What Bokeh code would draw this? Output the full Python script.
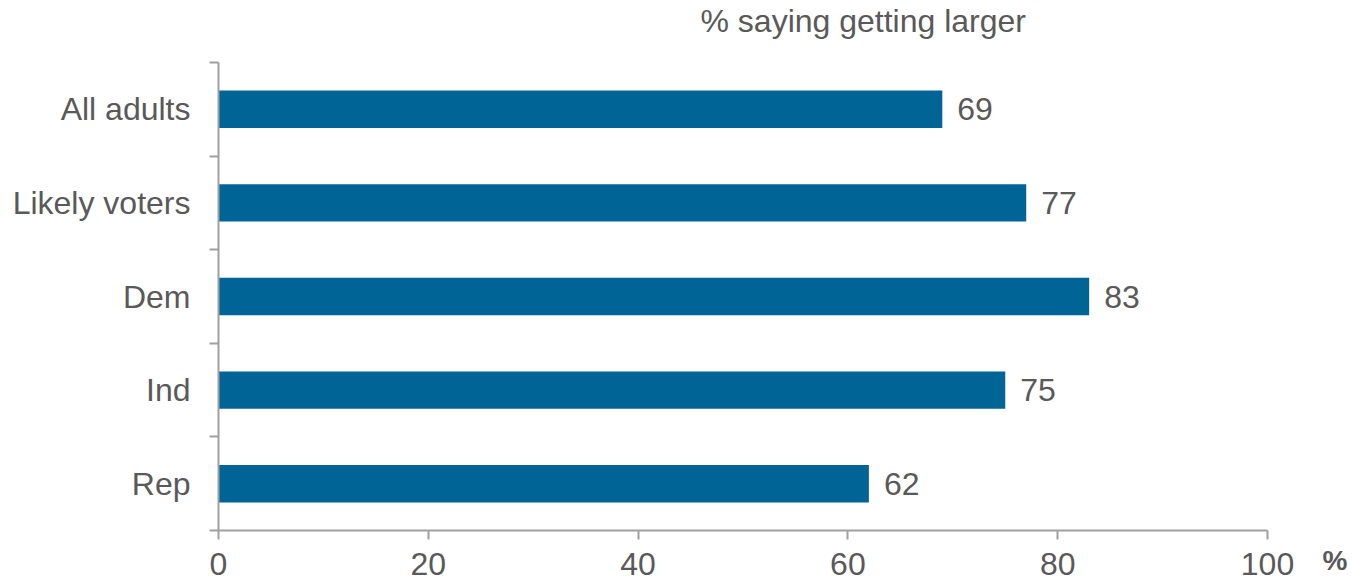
from bokeh.plotting import figure
from bokeh.models import ColumnDataSource, FixedTicker, Range1d
from bokeh.embed import file_html
from bokeh.resources import INLINE
from bokeh.core.properties import value

categories = ["All adults", "Likely voters", "Dem", "Ind", "Rep"]
values = [69, 77, 83, 75, 62]
x_ticks = [0, 20, 40, 60, 80, 100]
title_text = "% saying getting larger"
unit_text = "%"

n = len(categories)
ypos = [n - i - 0.5 for i in range(n)]

FONT = "Liberation Sans"
TXT = "#595959"
AX = "#a0a0a0"
BAR = "#006496"

W, H = 1352, 584
X0, X100 = 218, 1267      # pixel positions of 0 and 100
YTOP, YBOT = 62, 530      # pixel positions of top and bottom of category area
pxx = (X100 - X0) / 100.0
pxy = (YBOT - YTOP) / n

x_start = -X0 / pxx
x_end = (W - X0) / pxx
y_start = -(H - YBOT) / pxy
y_end = n + YTOP / pxy

src = ColumnDataSource(dict(y=ypos, v=values, lab=[str(v) for v in values]))

p = figure(width=W, height=H, output_backend="svg", toolbar_location=None,
           x_range=Range1d(x_start, x_end), y_range=Range1d(y_start, y_end),
           min_border=0)
p.outline_line_color = None
p.xgrid.visible = False
p.ygrid.visible = False

p.hbar(y="y", left=0, right="v", height=0.4, source=src, fill_color=BAR, line_color=None)
p.text(x="v", y="y", text="lab", source=src, x_offset=15, text_baseline="middle",
       text_align="left", text_font=value(FONT), text_font_size="32px", text_color=TXT)

# title above the bars
p.text(x=[(700 - X0) / pxx], y=[n + (YTOP - 20) / pxy], text=[title_text],
       text_baseline="alphabetic", text_align="left", text_font=value(FONT),
       text_font_size="32px", text_color=TXT)
# unit marker right of axis
p.text(x=[(1322 - X0) / pxx], y=[-(560 - YBOT) / pxy], text=[unit_text],
       text_baseline="alphabetic", text_align="left", text_font=value(FONT),
       text_font_size="28px", text_font_style="bold", text_color=TXT)

# x axis
xa = p.xaxis[0]
xa.fixed_location = 0
xa.bounds = (0, 100)
xa.ticker = FixedTicker(ticks=x_ticks)
xa.axis_line_color = AX
xa.axis_line_width = 2
xa.major_tick_line_color = AX
xa.major_tick_line_width = 2
xa.major_tick_out = 9
xa.major_tick_in = 0
xa.minor_tick_line_color = None
xa.major_label_text_font = FONT
xa.major_label_text_font_size = "32px"
xa.major_label_text_color = TXT
xa.major_label_standoff = 13

# y axis
ya = p.yaxis[0]
ya.fixed_location = 0
ya.bounds = (0, n)
ya.ticker = FixedTicker(ticks=ypos, minor_ticks=list(range(n + 1)))
ya.major_label_overrides = {y: c for y, c in zip(ypos, categories)}
ya.axis_line_color = AX
ya.axis_line_width = 2
ya.major_tick_line_color = None
ya.major_tick_out = 0
ya.major_tick_in = 0
ya.minor_tick_line_color = AX
ya.minor_tick_line_width = 2
ya.minor_tick_out = 9
ya.minor_tick_in = 0
ya.major_label_text_font = FONT
ya.major_label_text_font_size = "32px"
ya.major_label_text_color = TXT
ya.major_label_standoff = 19

open("out.html", "w").write(file_html(p, INLINE))
